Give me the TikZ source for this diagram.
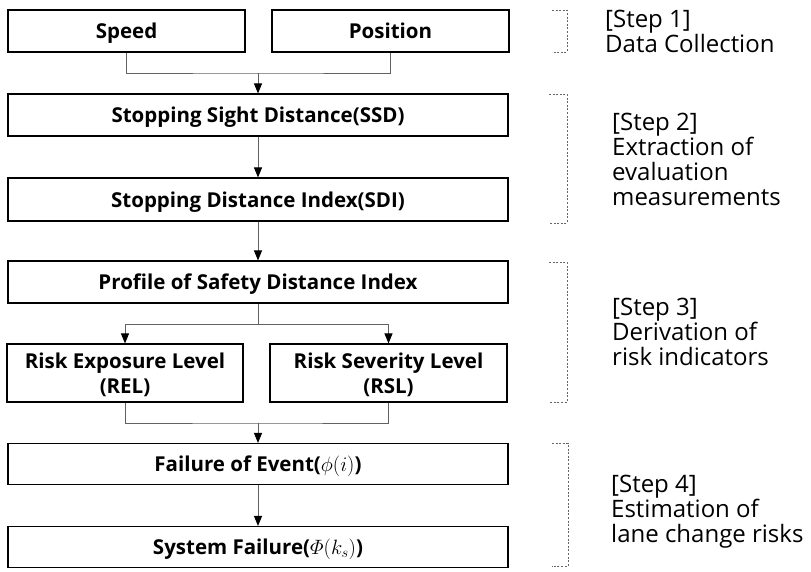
\documentclass[tikz,border=0pt]{standalone}
\usepackage{amsmath}
\usepackage{fontspec}
\setmainfont{Open Sans}
\usetikzlibrary{arrows.meta}
\begin{document}
\begin{tikzpicture}[x=1pt,y=-1pt,
  box/.style={draw=black,line width=1.1pt,inner sep=0pt,align=center,
    text depth=-2pt,font=\fontsize{20.5}{25}\selectfont\bfseries},
  link/.style={draw=black!62,line width=1pt},
  arr/.style={link,-{Triangle[width=8pt,length=10pt,color=black]}},
  bracket/.style={draw=black!60,line width=0.9pt,dash pattern=on 2pt off 1.6pt},
  steptext/.style={anchor=west,align=left,inner sep=0pt,
    font=\fontsize{24}{25}\selectfont}]
\useasboundingbox (0,0) rectangle (811,571);

% step 1: input data
\node[box,minimum width=237pt,minimum height=42pt] (speed) at (126.5,31) {Speed};
\node[box,minimum width=237pt,minimum height=42pt] (pos) at (390.5,31) {Position};
% step 2: evaluation measurements
\node[box,minimum width=500pt,minimum height=42pt] (ssd) at (258,115) {Stopping Sight Distance(SSD)};
\node[box,minimum width=500pt,minimum height=43pt] (sdi) at (258,199.5) {Stopping Distance Index(SDI)};
% step 3: risk indicators
\node[box,minimum width=500pt,minimum height=42pt] (prof) at (258,282) {Profile of Safety Distance Index};
\node[box,minimum width=236pt,minimum height=58pt] (rel) at (125,373) {Risk Exposure Level\\(REL)};
\node[box,minimum width=237pt,minimum height=58pt] (rsl) at (388.5,373) {Risk Severity Level\\(RSL)};
% step 4: failure estimation
\node[box,minimum width=500pt,minimum height=41pt] (foe) at (258,464) {Failure of Event($\phi(i)$)};
\node[box,minimum width=500pt,minimum height=41pt] (sys) at (258,547) {System Failure($\varPhi(k_s)$)};

% junction points of the connectors
\coordinate (j1) at (258,73);
\coordinate (j2) at (258,324);
\coordinate (j3) at (258,423);

% connectors
\draw[link] (speed.south) |- (j1) -| (pos.south);
\draw[arr] (j1) -- (ssd.north);
\draw[arr] (ssd.south) -- (sdi.north);
\draw[arr] (sdi.south) -- (prof.north);
\draw[link] (prof.south) -- (j2);
\draw[arr] (j2) -| (rel.north);
\draw[arr] (j2) -| (rsl.north);
\draw[link] (rel.south) |- (j3) -| (rsl.south);
\draw[arr] (j3) -- (foe.north);
\draw[arr] (foe.south) -- (sys.north);

% dashed brackets
\draw[bracket] (552,10) -- (567,10) -- (567,52) -- (552,52);
\draw[bracket] (549,94) -- (567,94) -- (567,223) -- (549,223);
\draw[bracket] (549,262) -- (567,262) -- (567,402) -- (549,402);
\draw[bracket] (552,443) -- (568,443) -- (568,566) -- (552,566);

% step descriptions
\node[steptext] (t1) at (605,31.5) {[Step 1]\\Data Collection};
\node[steptext] (t2) at (612,159.5) {[Step 2]\\Extraction of\\evaluation\\measurements};
\node[steptext] (t3) at (612,332) {[Step 3]\\Derivation of\\risk indicators};
\node[steptext] (t4) at (611,512) {[Step 4]\\Estimation of\\lane change risks};
\end{tikzpicture}
\end{document}
